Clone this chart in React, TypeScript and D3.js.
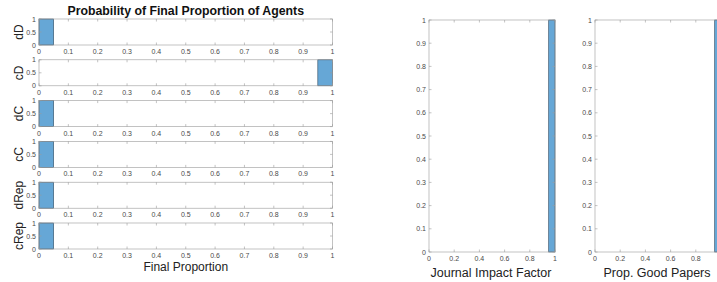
import { useEffect, useRef } from 'react';
import * as d3 from 'd3';

// histogram bin edges (width 0.05)
const binEdges = [0, 0.05, 0.1, 0.15, 0.2, 0.25, 0.3, 0.35, 0.4, 0.45, 0.5, 0.55, 0.6, 0.65, 0.7, 0.75, 0.8, 0.85, 0.9, 0.95, 1];

const agentTypes = ['dD', 'cD', 'dC', 'cC', 'dRep', 'cRep'];

// probability per bin for each agent type
const dDProb = [1, 0, 0, 0, 0, 0, 0, 0, 0, 0, 0, 0, 0, 0, 0, 0, 0, 0, 0, 0];
const cDProb = [0, 0, 0, 0, 0, 0, 0, 0, 0, 0, 0, 0, 0, 0, 0, 0, 0, 0, 0, 1];
const dCProb = [1, 0, 0, 0, 0, 0, 0, 0, 0, 0, 0, 0, 0, 0, 0, 0, 0, 0, 0, 0];
const cCProb = [1, 0, 0, 0, 0, 0, 0, 0, 0, 0, 0, 0, 0, 0, 0, 0, 0, 0, 0, 0];
const dRepProb = [1, 0, 0, 0, 0, 0, 0, 0, 0, 0, 0, 0, 0, 0, 0, 0, 0, 0, 0, 0];
const cRepProb = [1, 0, 0, 0, 0, 0, 0, 0, 0, 0, 0, 0, 0, 0, 0, 0, 0, 0, 0, 0];

const impactProb = [0, 0, 0, 0, 0, 0, 0, 0, 0, 0, 0, 0, 0, 0, 0, 0, 0, 0, 0, 1];
const goodPapersProb = [0, 0, 0, 0, 0, 0, 0, 0, 0, 0, 0, 0, 0, 0, 0, 0, 0, 0, 0, 1];

const agentXTicks = [0, 0.1, 0.2, 0.3, 0.4, 0.5, 0.6, 0.7, 0.8, 0.9, 1];
const agentYTicks = [0, 0.5, 1];
const sideXTicks = [0, 0.2, 0.4, 0.6, 0.8, 1];
const sideYTicks = [0, 0.1, 0.2, 0.3, 0.4, 0.5, 0.6, 0.7, 0.8, 0.9, 1];

const WIDTH = 717;
const HEIGHT = 282;
const FONT = '"Liberation Sans", Arial, Helvetica, sans-serif';
const AXIS_COLOR = '#9a9a9a';
const TEXT_COLOR = '#4a4a4a';
const BAR_FILL = '#66a7d6';
const BAR_EDGE = '#2e4a60';

type Sel = d3.Selection<SVGGElement, unknown, null, undefined>;

function drawPanel(
  root: Sel, left: number, top: number, w: number, h: number,
  probs: number[], xTicks: number[], yTicks: number[], tickLen: number,
) {
  const x = d3.scaleLinear().domain([0, 1]).range([left, left + w]);
  const y = d3.scaleLinear().domain([0, 1]).range([top + h, top]);
  const g = root.append('g');

  g.append('rect')
    .attr('x', left).attr('y', top).attr('width', w).attr('height', h)
    .attr('fill', '#fff');

  const bins = probs.map((p, i) => ({ x0: binEdges[i], x1: binEdges[i + 1], p })).filter(d => d.p > 0);
  g.selectAll('.bar').data(bins).enter().append('rect')
    .attr('x', d => x(d.x0)).attr('y', d => y(d.p))
    .attr('width', d => x(d.x1) - x(d.x0)).attr('height', d => y(0) - y(d.p))
    .attr('fill', BAR_FILL).attr('stroke', BAR_EDGE).attr('stroke-width', 0.6);

  // box
  g.append('rect')
    .attr('x', left).attr('y', top).attr('width', w).attr('height', h)
    .attr('fill', 'none').attr('stroke', AXIS_COLOR).attr('stroke-width', 0.6);

  // inward ticks on all four sides
  xTicks.forEach(t => {
    g.append('line').attr('x1', x(t)).attr('x2', x(t)).attr('y1', top + h).attr('y2', top + h - tickLen)
      .attr('stroke', AXIS_COLOR).attr('stroke-width', 0.6);
    g.append('line').attr('x1', x(t)).attr('x2', x(t)).attr('y1', top).attr('y2', top + tickLen)
      .attr('stroke', AXIS_COLOR).attr('stroke-width', 0.6);
  });
  yTicks.forEach(t => {
    g.append('line').attr('x1', left).attr('x2', left + tickLen).attr('y1', y(t)).attr('y2', y(t))
      .attr('stroke', AXIS_COLOR).attr('stroke-width', 0.6);
    g.append('line').attr('x1', left + w).attr('x2', left + w - tickLen).attr('y1', y(t)).attr('y2', y(t))
      .attr('stroke', AXIS_COLOR).attr('stroke-width', 0.6);
  });

  // labels falling past the page edge are clipped away in the original
  g.selectAll('.xt').data(xTicks.filter(t => x(t) < WIDTH - 3)).enter().append('text')
    .attr('x', d => x(d)).attr('y', top + h + 9)
    .attr('text-anchor', 'middle')
    .style('font-size', '7px').style('font-family', FONT).attr('fill', TEXT_COLOR)
    .text(d => String(d));

  g.selectAll('.yt').data(yTicks).enter().append('text')
    .attr('x', left - 3).attr('y', d => y(d) + 2.5)
    .attr('text-anchor', 'end')
    .style('font-size', '7px').style('font-family', FONT).attr('fill', TEXT_COLOR)
    .text(d => String(d));

  return g;
}

const App = () => {
  const svgRef = useRef<SVGSVGElement>(null);

  useEffect(() => {
    if (!svgRef.current) return;
    const svg = d3.select(svgRef.current);
    svg.selectAll('*').remove();
    const root = svg.append('g') as unknown as Sel;

    const agentSeries = [dDProb, cDProb, dCProb, cCProb, dRepProb, cRepProb];
    const agentLeft = 39;
    const agentW = 293.5;
    const agentH = 26;
    const agentTop = 19;
    const agentStep = 40.8;

    agentSeries.forEach((probs, i) => {
      const top = agentTop + i * agentStep;
      drawPanel(root, agentLeft, top, agentW, agentH, probs, agentXTicks, agentYTicks, 2.5);
      root.append('text')
        .attr('transform', `translate(${23},${top + agentH / 2}) rotate(-90)`)
        .attr('text-anchor', 'middle')
        .style('font-size', '12px').style('font-family', FONT).attr('fill', '#222')
        .text(agentTypes[i]);
    });

    root.append('text')
      .attr('x', agentLeft + agentW / 2).attr('y', 15)
      .attr('text-anchor', 'middle')
      .style('font-size', '12.3px').style('font-weight', 'bold').style('font-family', FONT).attr('fill', '#111')
      .text('Probability of Final Proportion of Agents');

    root.append('text')
      .attr('x', agentLeft + agentW / 2).attr('y', 271)
      .attr('text-anchor', 'middle')
      .style('font-size', '12px').style('font-family', FONT).attr('fill', '#222')
      .text('Final Proportion');

    const sideTop = 20;
    const sideH = 232;
    const sideW = 126;
    const sidePanels = [
      { left: 429, probs: impactProb, label: 'Journal Impact Factor' },
      { left: 595, probs: goodPapersProb, label: 'Prop. Good Papers' },
    ];
    sidePanels.forEach(p => {
      drawPanel(root, p.left, sideTop, sideW, sideH, p.probs, sideXTicks, sideYTicks, 2.5);
      root.append('text')
        .attr('x', p.left + sideW / 2 - 1).attr('y', 277)
        .attr('text-anchor', 'middle')
        .style('font-size', '12.5px').style('font-family', FONT).attr('fill', '#222')
        .text(p.label);
    });
  }, []);

  return (
    <div style={{ position: 'absolute', left: 0, top: 0 }}>
      <svg ref={svgRef} width={WIDTH} height={HEIGHT} style={{ display: 'block', background: '#fff' }}></svg>
    </div>
  );
};

export default App;
